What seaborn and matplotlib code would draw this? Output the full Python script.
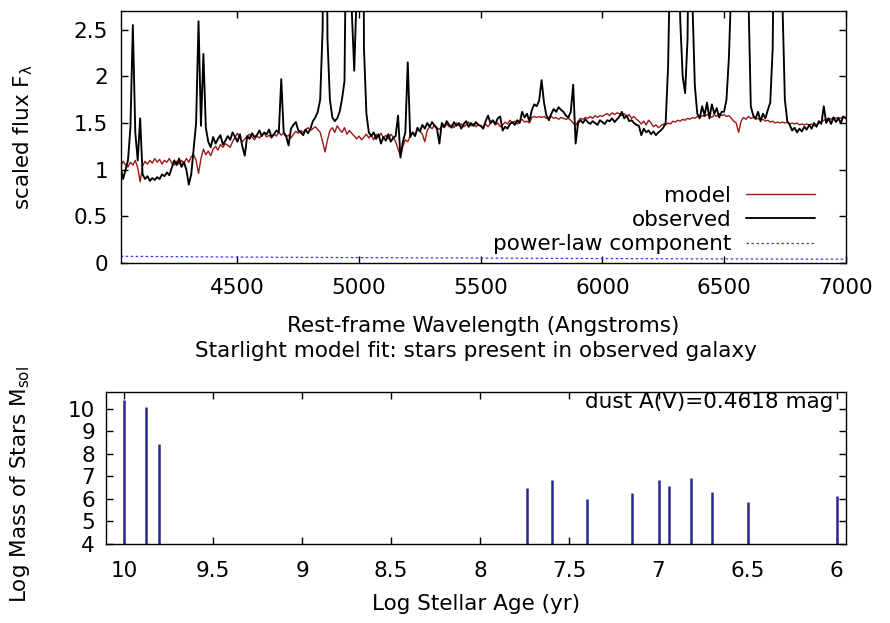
import matplotlib
matplotlib.use("Agg")
import matplotlib.pyplot as plt
import numpy as np
import pandas as pd
import seaborn as sns
from matplotlib.ticker import FuncFormatter

# spectrum sampled every 10 Angstroms, 4020 .. 7000
WAVE_START = 4020
WAVE_STEP = 10

observed_flux = [
    1.02, 0.90, 1.00, 1.10, 1.45, 2.55, 1.40, 1.10, 1.55, 0.95,
    0.90, 0.93, 0.88, 0.91, 0.89, 0.92, 0.90, 0.95, 0.93, 0.97,
    0.94, 1.02, 1.10, 1.05, 1.12, 1.03, 1.08, 1.00, 0.84, 0.95,
    1.22, 1.50, 2.59, 1.47, 2.24, 1.45, 1.30, 1.24, 1.35, 1.28,
    1.33, 1.37, 1.27, 1.31, 1.36, 1.32, 1.40, 1.35, 1.30, 1.38,
    1.25, 1.15, 1.36, 1.33, 1.39, 1.35, 1.37, 1.42, 1.36, 1.40,
    1.38, 1.43, 1.35, 1.38, 1.42, 1.40, 1.97, 1.40, 1.36, 1.26,
    1.44, 1.48, 1.51, 1.42, 1.40, 1.37, 1.43, 1.39, 1.44, 1.52,
    1.56, 1.62, 1.75, 2.50, 6.00, 2.40, 1.75, 1.56, 1.52, 1.55,
    1.62, 1.76, 1.95, 4.50, 8.00, 2.70, 2.06, 2.90, 12.0, 9.00,
    2.30, 1.60, 1.40, 1.36, 1.40, 1.33, 1.38, 1.28, 1.35, 1.31,
    1.38, 1.30, 1.34, 1.36, 1.58, 1.13, 1.30, 1.40, 2.15, 1.35,
    1.40, 1.36, 1.45, 1.41, 1.48, 1.44, 1.50, 1.46, 1.51, 1.47,
    1.44, 1.28, 1.50, 1.46, 1.52, 1.48, 1.45, 1.51, 1.47, 1.50,
    1.44, 1.49, 1.52, 1.46, 1.50, 1.47, 1.51, 1.48, 1.47, 1.44,
    1.52, 1.58, 1.50, 1.53, 1.49, 1.55, 1.57, 1.42, 1.46, 1.44,
    1.49, 1.51, 1.48, 1.53, 1.50, 1.62, 1.56, 1.60, 1.52, 1.64,
    1.70, 1.68, 1.74, 1.96, 1.72, 1.58, 1.53, 1.60, 1.65, 1.62,
    1.67, 1.64, 1.62, 1.58, 1.56, 1.62, 1.91, 1.28, 1.50, 1.53,
    1.50, 1.54, 1.51, 1.49, 1.52, 1.50, 1.48, 1.53, 1.51, 1.49,
    1.53, 1.52, 1.55, 1.51, 1.54, 1.57, 1.62, 1.55, 1.58, 1.52,
    1.53, 1.50, 1.48, 1.47, 1.37, 1.44, 1.40, 1.42, 1.38, 1.41,
    1.37, 1.40, 1.42, 1.45, 1.50, 2.10, 3.50, 5.00, 6.00, 4.00,
    2.60, 2.00, 1.82, 2.40, 5.00, 2.80, 1.90, 1.60, 1.55, 1.68,
    1.58, 1.72, 1.55, 1.70, 1.60, 1.66, 1.56, 1.62, 1.62, 1.75,
    2.20, 3.00, 5.00, 7.00, 12.0, 8.00, 9.00, 5.00, 2.90, 1.68,
    1.58, 1.55, 1.62, 1.52, 1.60, 1.55, 1.64, 1.72, 2.30, 5.00,
    6.00, 5.50, 2.80, 1.75, 1.52, 1.48, 1.42, 1.45, 1.40, 1.44,
    1.41, 1.46, 1.43, 1.48, 1.44, 1.50, 1.46, 1.52, 1.49, 1.68,
    1.50, 1.55, 1.49, 1.56, 1.51, 1.55, 1.50, 1.57, 1.55,
]

model_flux = [
    1.04, 1.09, 1.05, 1.03, 1.08, 1.05, 1.10, 1.02, 0.87, 1.04,
    1.09, 1.06, 1.10, 1.07, 1.12, 1.08, 1.11, 1.06, 1.10, 1.08,
    1.12, 1.07, 1.05, 1.09, 1.06, 1.10, 1.07, 1.12, 1.08, 1.14,
    1.16, 1.10, 0.96, 1.12, 1.22, 1.16, 1.20, 1.15, 1.22, 1.25,
    1.21, 1.27, 1.24, 1.28, 1.26, 1.24, 1.30, 1.35, 1.39, 1.34,
    1.30, 1.33, 1.36, 1.38, 1.35, 1.32, 1.36, 1.34, 1.37, 1.39,
    1.35, 1.37, 1.34, 1.38, 1.36, 1.40, 1.37, 1.39, 1.35, 1.37,
    1.34, 1.38, 1.41, 1.39, 1.42, 1.40, 1.43, 1.45, 1.42, 1.44,
    1.46, 1.43, 1.40, 1.30, 1.19, 1.32, 1.42, 1.45, 1.40, 1.47,
    1.43, 1.40, 1.45, 1.38, 1.42, 1.39, 1.36, 1.33, 1.36, 1.32,
    1.35, 1.38, 1.34, 1.37, 1.32, 1.38, 1.35, 1.39, 1.34, 1.37,
    1.33, 1.38, 1.35, 1.30, 1.22, 1.15, 1.25, 1.32, 1.30, 1.36,
    1.40, 1.37, 1.44, 1.41, 1.38, 1.30, 1.42, 1.46, 1.44, 1.48,
    1.45, 1.43, 1.47, 1.45, 1.49, 1.46, 1.48, 1.45, 1.50, 1.47,
    1.49, 1.46, 1.48, 1.51, 1.47, 1.49, 1.46, 1.48, 1.47, 1.45,
    1.49, 1.46, 1.50, 1.52, 1.48, 1.50, 1.46, 1.48, 1.51, 1.49,
    1.53, 1.50, 1.52, 1.49, 1.52, 1.54, 1.51, 1.52, 1.50, 1.56,
    1.57, 1.56, 1.57, 1.56, 1.57, 1.55, 1.56, 1.57, 1.55, 1.56,
    1.54, 1.56, 1.55, 1.54, 1.55, 1.53, 1.50, 1.47, 1.52, 1.55,
    1.54, 1.56, 1.55, 1.57, 1.55, 1.58, 1.56, 1.58, 1.57, 1.59,
    1.60, 1.58, 1.61, 1.59, 1.61, 1.60, 1.58, 1.60, 1.57, 1.59,
    1.55, 1.57, 1.54, 1.52, 1.49, 1.52, 1.48, 1.53, 1.50, 1.46,
    1.48, 1.45, 1.47, 1.49, 1.48, 1.50, 1.49, 1.52, 1.51, 1.53,
    1.52, 1.54, 1.53, 1.55, 1.54, 1.56, 1.55, 1.57, 1.56, 1.58,
    1.57, 1.59, 1.58, 1.56, 1.59, 1.57, 1.60, 1.58, 1.59, 1.57,
    1.58, 1.55, 1.52, 1.50, 1.40, 1.52, 1.56, 1.54, 1.57, 1.55,
    1.56, 1.54, 1.55, 1.53, 1.54, 1.52, 1.53, 1.51, 1.52, 1.50,
    1.51, 1.50, 1.51, 1.50, 1.51, 1.49, 1.50, 1.49, 1.50, 1.48,
    1.49, 1.48, 1.49, 1.48, 1.49, 1.47, 1.48, 1.50, 1.51, 1.53,
    1.54, 1.55, 1.54, 1.56, 1.55, 1.56, 1.55, 1.57, 1.56,
]

powerlaw_wave = [4020, 4500, 5000, 5500, 6000, 6500, 7000]
powerlaw_flux = [0.072, 0.064, 0.058, 0.053, 0.048, 0.044, 0.041]

# stellar populations found by the fit
log_age = [10.0, 9.875, 9.80, 7.74, 7.60, 7.40, 7.15, 7.00, 6.94, 6.82, 6.70, 6.50, 6.00]
log_mass = [10.40, 10.06, 8.42, 6.47, 6.84, 6.00, 6.25, 6.82, 6.57, 6.94, 6.29, 5.86, 6.11]
dust_av = 0.4618

wave = WAVE_START + WAVE_STEP * np.arange(len(observed_flux))
assert len(observed_flux) == len(model_flux)

spec = pd.DataFrame({"wave": wave, "observed": observed_flux, "model": model_flux})
plaw = pd.DataFrame({"wave": powerlaw_wave, "flux": powerlaw_flux})

sns.set_theme(style="ticks")
plt.rcParams["font.family"] = ["DejaVu Sans"]
plt.rcParams["mathtext.default"] = "regular"
for key in ("text.color", "axes.labelcolor", "xtick.color", "ytick.color", "axes.edgecolor"):
    plt.rcParams[key] = "black"

FS = 15.5
fmt = FuncFormatter(lambda v, p: "%g" % v)

fig = plt.figure(figsize=(8.9, 6.23), dpi=100)
ax1 = fig.add_axes([0.1356, 0.5778, 0.8146, 0.4045])
ax2 = fig.add_axes([0.1191, 0.1268, 0.8311, 0.2435])

# --- spectrum panel
sns.lineplot(data=spec, x="wave", y="model", ax=ax1, color="#a01818", lw=1.0, label="model")
sns.lineplot(data=spec, x="wave", y="observed", ax=ax1, color="black", lw=1.35, label="observed")
sns.lineplot(data=plaw, x="wave", y="flux", ax=ax1, color="#3a3aff", lw=0.9,
             linestyle=(0, (2, 2)), label="power-law component")

ax1.set_xlim(4020, 7000)
ax1.set_ylim(0, 2.7)
ax1.set_xticks([4500, 5000, 5500, 6000, 6500, 7000])
ax1.set_yticks([0, 0.5, 1, 1.5, 2, 2.5])
ax1.yaxis.set_major_formatter(fmt)
ax1.set_xlabel("Rest-frame Wavelength (Angstroms)", fontsize=FS)
ax1.set_ylabel("scaled flux F$_λ$", fontsize=FS)
ax1.xaxis.set_label_coords(0.5, -0.21)
ax1.yaxis.set_label_coords(-0.118, 0.5)
ax1.tick_params(axis="x", pad=11)
ax1.tick_params(axis="y", pad=9)

ax1.legend(loc="lower right", bbox_to_anchor=(0.958, 0.035), frameon=False,
           markerfirst=False, handlelength=3.2, handletextpad=0.7,
           labelspacing=0.2, borderpad=0, borderaxespad=0, fontsize=FS)

# --- stellar population panel
ax2.vlines(log_age, 4, log_mass, color="#262a8c", lw=1.8)
ax2.set_xlim(10.1, 5.95)
ax2.set_ylim(4, 10.73)
ax2.set_xticks([10, 9.5, 9, 8.5, 8, 7.5, 7, 6.5, 6])
ax2.set_yticks([4, 5, 6, 7, 8, 9, 10])
ax2.xaxis.set_major_formatter(fmt)
ax2.set_xlabel("Log Stellar Age (yr)", fontsize=FS)
ax2.set_ylabel("Log Mass of Stars M$_{sol}$", fontsize=FS)
ax2.xaxis.set_label_coords(0.5, -0.33)
ax2.yaxis.set_label_coords(-0.1, 0.39)
ax2.tick_params(axis="x", pad=12)
ax2.tick_params(axis="y", pad=8)
ax2.text(0.983, 0.938, "dust A(V)=%.4f mag" % dust_av, transform=ax2.transAxes,
         ha="right", va="center", fontsize=FS)
ax2.text(0.5, 1.27, "Starlight model fit: stars present in observed galaxy",
         transform=ax2.transAxes, ha="center", va="center", fontsize=FS)

for ax in (ax1, ax2):
    ax.tick_params(direction="in", length=5, width=1, top=True, right=True,
                   labelsize=FS)
    for s in ax.spines.values():
        s.set_linewidth(1.0)

fig.savefig("out.png", dpi=100)
